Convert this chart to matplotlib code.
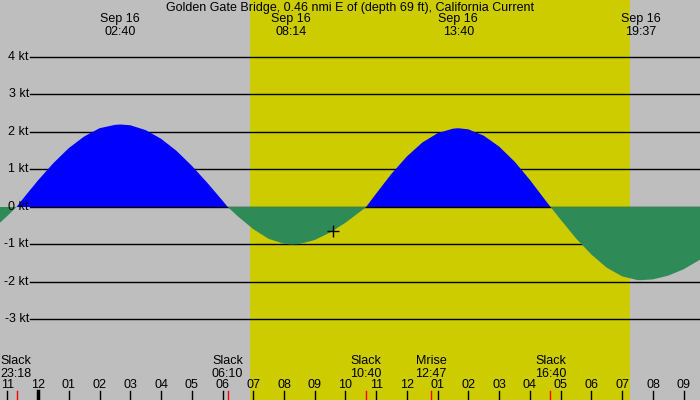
import matplotlib
matplotlib.use('Agg')
import matplotlib.pyplot as plt
import numpy as np

plt.rcParams['font.family'] = ['Liberation Sans', 'DejaVu Sans']

title = "Golden Gate Bridge, 0.46 nmi E of (depth 69 ft), California Current"

# hours after Sep 16 00:00 and current speed in knots (flood +, ebb -)
hours = [-1.5, -1.0, -0.7, -0.5, 0.0, 0.5, 1.0, 1.5, 2.0, 2.5, 2.67,
         3.0, 3.5, 4.0, 4.5, 5.0, 5.5, 6.0, 6.17,
         6.5, 7.0, 7.5, 8.0, 8.23, 8.5, 9.0, 9.5, 10.0, 10.5, 10.67,
         11.0, 11.5, 12.0, 12.5, 13.0, 13.5, 13.67, 14.0, 14.5, 15.0, 15.5, 16.0, 16.5, 16.67,
         17.0, 17.5, 18.0, 18.5, 19.0, 19.5, 19.62, 20.0, 20.5, 21.0, 21.5, 22.0]
knots = [-0.62, -0.24, 0.0, 0.21, 0.71, 1.17, 1.57, 1.88, 2.10, 2.19, 2.20,
         2.18, 2.05, 1.82, 1.50, 1.10, 0.65, 0.17, 0.0,
         -0.25, -0.59, -0.85, -0.98, -1.00, -0.99, -0.88, -0.68, -0.42, -0.11, 0.0,
         0.36, 0.89, 1.35, 1.72, 1.97, 2.09, 2.10, 2.07, 1.90, 1.61, 1.21, 0.72, 0.18, 0.0,
         -0.34, -0.84, -1.27, -1.62, -1.85, -1.95, -1.95, -1.93, -1.83, -1.66, -1.42, -1.13]

# max current times shown on top
peak_hours = [2.667, 8.233, 13.667, 19.617]
peak_labels = ['02:40', '08:14', '13:40', '19:37']

# events shown at bottom
event_hours = [-0.7, 6.167, 10.667, 12.783, 16.667]
event_names = ['Slack', 'Slack', 'Slack', 'Mrise', 'Slack']
event_times = ['23:18', '06:10', '10:40', '12:47', '16:40']

sunrise = 6.88
sunset = 19.25
now_hour, now_knots = 9.59, -0.63

levels = [4, 3, 2, 1, 0, -1, -2, -3]

FS = 9

fig = plt.figure(figsize=(7, 4), dpi=100)
ax = fig.add_axes([0, 0, 1, 1])
ax.set_xlim(-1.237, 21.53)
ax.set_ylim(-5.147, 5.52)
ax.axis('off')
ax.add_patch(plt.Rectangle((0, 0), 1, 1, transform=ax.transAxes, color='#bebebe', zorder=0))
ax.axvspan(sunrise, sunset, color='#cccc00', lw=0, zorder=0.5)

yt = ax.get_yaxis_transform()
xt = ax.get_xaxis_transform()
for lv in levels:
    ax.plot([30 / 700, 1], [lv, lv], color='black', lw=1, transform=yt,
            zorder=2.5 if lv == 0 else 1)
    ax.text(29 / 700, lv, f'{lv} kt', transform=yt, ha='right', va='center',
            fontsize=FS, zorder=5)

h = np.array(hours)
k = np.array(knots)
ax.fill_between(h, k, 0, where=k >= 0, interpolate=True, color='blue', lw=0, zorder=2)
ax.fill_between(h, k, 0, where=k <= 0, interpolate=True, color='#2e8b57', lw=0, zorder=3)

# current time marker
ax.plot(now_hour, now_knots, marker='+', color='black', ms=9, mew=1, zorder=6)

# title and max current labels
ax.text(0.5, 1 - 8 / 400, title, transform=ax.transAxes, ha='center', va='center', fontsize=FS)
for ph, pl in zip(peak_hours, peak_labels):
    ax.text(ph, 1 - 19 / 400, 'Sep 16', transform=xt, ha='center', va='center', fontsize=FS)
    ax.text(ph, 1 - 32 / 400, pl, transform=xt, ha='center', va='center', fontsize=FS)

# hour ticks
for hr in range(-1, 22):
    lab = f'{(hr % 12) or 12:02d}'
    ax.text(hr, 1 - 385 / 400, lab, transform=xt, ha='center', va='center', fontsize=FS)
    ax.plot([hr, hr], [0, 9 / 400], transform=xt, color='black',
            lw=2.5 if hr == 0 else 1, zorder=5)

# event ticks and labels
for eh, en, et in zip(event_hours, event_names, event_times):
    ax.plot([eh, eh], [0, 9 / 400], transform=xt, color='red', lw=1, zorder=5)
    if eh < 0:
        tx, ha, tr = 0, 'left', ax.transAxes
    else:
        tx, ha, tr = eh, 'center', xt
    ax.text(tx, 1 - 361 / 400, en, transform=tr, ha=ha, va='center', fontsize=FS)
    ax.text(tx, 1 - 374 / 400, et, transform=tr, ha=ha, va='center', fontsize=FS)

fig.savefig('out.png', dpi=100)
